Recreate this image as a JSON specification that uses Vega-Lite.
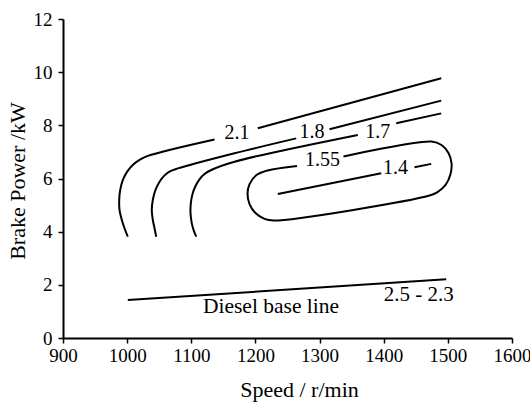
{
  "$schema": "https://vega.github.io/schema/vega-lite/v6.json",
  "autosize": {"type": "none"},
  "width": 449,
  "height": 319,
  "padding": {"left": 63, "top": 19, "right": 18, "bottom": 65},
  "config": {
    "view": {"stroke": null},
    "font": "Liberation Serif",
    "axis": {
      "domainColor": "black", "domainWidth": 2,
      "tickColor": "black", "tickWidth": 1.5, "tickSize": 5,
      "labelColor": "black", "titleColor": "black",
      "labelFont": "Liberation Serif", "titleFont": "Liberation Serif",
      "labelFontSize": 19, "titleFontSize": 22, "titleFontWeight": "normal",
      "grid": false, "labelFlush": false, "labelOverlap": false, "labelBound": false
    }
  },
  "encoding": {
    "x": {
      "field": "x", "type": "quantitative",
      "scale": {"domain": [900, 1600], "nice": false, "zero": false},
      "axis": {"title": "Speed / r/min", "values": [900, 1000, 1100, 1200, 1300, 1400, 1500, 1600], "format": "d",
        "labelPadding": 3, "titleX": 236, "titleY": 58, "titleBaseline": "alphabetic", "titleAlign": "center"}
    },
    "y": {
      "field": "y", "type": "quantitative",
      "scale": {"domain": [0, 12], "nice": false},
      "axis": {"title": "Brake Power /kW", "values": [0, 2, 4, 6, 8, 10, 12],
        "labelPadding": 6, "titleX": -39, "titleY": 161.5, "titleAngle": -90, "titleBaseline": "alphabetic", "titleAlign": "center"}
    }
  },
  "layer": [
    {
      "data": {"values": [
        {"seg": "s1", "i": 0, "x": 1489.7, "y": 9.77},
        {"seg": "s1", "i": 1, "x": 1203.7, "y": 7.89},
        {"seg": "s2", "i": 0, "x": 1136.2, "y": 7.47},
        {"seg": "s2", "i": 1, "x": 1032.2, "y": 6.85},
        {"seg": "s2", "i": 2, "x": 1019.3, "y": 6.70},
        {"seg": "s2", "i": 3, "x": 1008.8, "y": 6.51},
        {"seg": "s2", "i": 4, "x": 1000.1, "y": 6.26},
        {"seg": "s2", "i": 5, "x": 993.2, "y": 5.94},
        {"seg": "s2", "i": 6, "x": 989.2, "y": 5.57},
        {"seg": "s2", "i": 7, "x": 987.6, "y": 5.19},
        {"seg": "s2", "i": 8, "x": 988.1, "y": 4.82},
        {"seg": "s2", "i": 9, "x": 991.7, "y": 4.44},
        {"seg": "s2", "i": 10, "x": 995.9, "y": 4.13},
        {"seg": "s2", "i": 11, "x": 1001.0, "y": 3.81},
        {"seg": "s3", "i": 0, "x": 1489.7, "y": 8.93},
        {"seg": "s3", "i": 1, "x": 1315.5, "y": 7.85},
        {"seg": "s4", "i": 0, "x": 1263.6, "y": 7.51},
        {"seg": "s4", "i": 1, "x": 1167.4, "y": 6.95},
        {"seg": "s4", "i": 2, "x": 1079.0, "y": 6.38},
        {"seg": "s4", "i": 3, "x": 1066.0, "y": 6.26},
        {"seg": "s4", "i": 4, "x": 1057.2, "y": 6.09},
        {"seg": "s4", "i": 5, "x": 1050.5, "y": 5.88},
        {"seg": "s4", "i": 6, "x": 1044.2, "y": 5.57},
        {"seg": "s4", "i": 7, "x": 1040.0, "y": 5.19},
        {"seg": "s4", "i": 8, "x": 1038.4, "y": 4.82},
        {"seg": "s4", "i": 9, "x": 1040.0, "y": 4.44},
        {"seg": "s4", "i": 10, "x": 1042.7, "y": 4.13},
        {"seg": "s4", "i": 11, "x": 1045.3, "y": 3.81},
        {"seg": "s5", "i": 0, "x": 1489.7, "y": 8.45},
        {"seg": "s5", "i": 1, "x": 1419.5, "y": 8.08},
        {"seg": "s6", "i": 0, "x": 1359.6, "y": 7.64},
        {"seg": "s6", "i": 1, "x": 1167.4, "y": 6.63},
        {"seg": "s6", "i": 2, "x": 1131.1, "y": 6.32},
        {"seg": "s6", "i": 3, "x": 1120.6, "y": 6.17},
        {"seg": "s6", "i": 4, "x": 1112.8, "y": 5.97},
        {"seg": "s6", "i": 5, "x": 1106.6, "y": 5.72},
        {"seg": "s6", "i": 6, "x": 1101.9, "y": 5.42},
        {"seg": "s6", "i": 7, "x": 1099.3, "y": 5.07},
        {"seg": "s6", "i": 8, "x": 1098.8, "y": 4.69},
        {"seg": "s6", "i": 9, "x": 1100.8, "y": 4.31},
        {"seg": "s6", "i": 10, "x": 1103.9, "y": 4.04},
        {"seg": "s6", "i": 11, "x": 1107.7, "y": 3.81},
        {"seg": "s7", "i": 0, "x": 1264.8, "y": 6.47},
        {"seg": "s7", "i": 1, "x": 1218.8, "y": 6.30},
        {"seg": "s7", "i": 2, "x": 1201.7, "y": 6.13},
        {"seg": "s7", "i": 3, "x": 1190.8, "y": 5.79},
        {"seg": "s7", "i": 4, "x": 1187.7, "y": 5.42},
        {"seg": "s7", "i": 5, "x": 1190.8, "y": 5.04},
        {"seg": "s7", "i": 6, "x": 1200.1, "y": 4.70},
        {"seg": "s7", "i": 7, "x": 1214.2, "y": 4.48},
        {"seg": "s7", "i": 8, "x": 1228.2, "y": 4.42},
        {"seg": "s7", "i": 9, "x": 1471.4, "y": 5.36},
        {"seg": "s7", "i": 10, "x": 1483.9, "y": 5.49},
        {"seg": "s7", "i": 11, "x": 1496.4, "y": 5.76},
        {"seg": "s7", "i": 12, "x": 1504.2, "y": 6.17},
        {"seg": "s7", "i": 13, "x": 1505.7, "y": 6.58},
        {"seg": "s7", "i": 14, "x": 1501.0, "y": 6.96},
        {"seg": "s7", "i": 15, "x": 1490.1, "y": 7.26},
        {"seg": "s7", "i": 16, "x": 1474.5, "y": 7.39},
        {"seg": "s7", "i": 17, "x": 1337.3, "y": 6.83},
        {"seg": "s8", "i": 0, "x": 1234.9, "y": 5.42},
        {"seg": "s8", "i": 1, "x": 1396.1, "y": 6.20},
        {"seg": "s9", "i": 0, "x": 1448.0, "y": 6.42},
        {"seg": "s9", "i": 1, "x": 1474.1, "y": 6.55},
        {"seg": "s10", "i": 0, "x": 1001.0, "y": 1.43},
        {"seg": "s10", "i": 1, "x": 1497.4, "y": 2.21}
      ]},
      "mark": {"type": "line", "color": "black", "strokeWidth": 2, "interpolate": "catmull-rom"},
      "encoding": {
        "detail": {"field": "seg", "type": "nominal"},
        "order": {"field": "i", "type": "quantitative"}
      }
    },
    {
      "data": {"values": [
        {"label": "2.1", "size": 20, "x": 1171.3, "y": 7.70},
        {"label": "1.8", "size": 20, "x": 1288.2, "y": 7.75},
        {"label": "1.7", "size": 20, "x": 1390.8, "y": 7.76},
        {"label": "1.55", "size": 20, "x": 1304.4, "y": 6.68},
        {"label": "1.4", "size": 20, "x": 1418.4, "y": 6.38},
        {"label": "Diesel base line", "size": 21.5, "x": 1224.3, "y": 1.17},
        {"label": "2.5 - 2.3", "size": 21, "x": 1454.6, "y": 1.63}
      ]},
      "mark": {"type": "text", "font": "Liberation Serif", "color": "black", "align": "center", "baseline": "middle"},
      "encoding": {
        "text": {"field": "label", "type": "nominal"},
        "size": {"field": "size", "type": "quantitative", "scale": null, "legend": null}
      }
    }
  ]
}
